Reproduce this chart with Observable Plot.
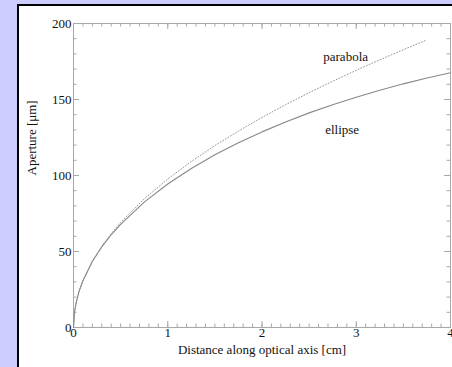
<!DOCTYPE html>
<html><head><meta charset="utf-8">
<script src="https://cdn.jsdelivr.net/npm/d3@7"></script>
<script src="https://cdn.jsdelivr.net/npm/@observablehq/plot@0.6"></script>
<style>
html,body{margin:0;padding:0;background:#ccccff;width:452px;height:367px;overflow:hidden;}
#panel{position:absolute;left:17px;top:4px;width:470px;height:420px;background:#fff;border-left:2px solid #000;border-top:2px solid #000;}
#chart{position:absolute;left:0;top:0;}
</style></head><body><div id="panel"></div><div id="chart"></div>
<script>
// tick values
const xTicks = [0, 1, 2, 3, 4];
const yTicks = [0, 50, 100, 150, 200];
const xMinorTicks = d3.range(0, 4.001, 0.1);
const yMinorTicks = d3.range(0, 200.1, 10);

// ellipse curve (distance cm, aperture µm)
const ellipseX = [0, 0.01, 0.03, 0.06, 0.1, 0.2, 0.3, 0.4, 0.5, 0.75, 1.0, 1.25, 1.5, 1.75, 2.0, 2.25, 2.5, 2.75, 3.0, 3.25, 3.5, 3.75, 4.0];
const ellipseY = [0, 9.8, 16.9, 23.9, 30.8, 43.4, 53.0, 61.0, 67.9, 82.5, 94.4, 104.6, 113.6, 121.6, 128.7, 135.2, 141.2, 146.6, 151.5, 156.1, 160.3, 164.1, 167.6];

// parabola curve
const parabolaX = [0, 0.01, 0.03, 0.06, 0.1, 0.2, 0.3, 0.4, 0.5, 0.75, 1.0, 1.25, 1.5, 1.75, 2.0, 2.25, 2.5, 2.75, 3.0, 3.25, 3.5, 3.73];
const parabolaY = [0, 9.8, 16.9, 23.9, 30.9, 43.7, 53.5, 61.8, 69.1, 84.6, 97.7, 109.2, 119.7, 129.2, 138.2, 146.6, 154.5, 162.0, 169.2, 176.1, 182.8, 188.7];

// curve labels
const labelText = ["parabola", "ellipse"];
const labelX = [2.65, 2.67];
const labelY = [178, 130];

const xTitle = "Distance along optical axis [cm]";
const yTitle = "Aperture [μm]";

const ellipse = ellipseX.map((x, i) => ({x, y: ellipseY[i]}));
const parabola = parabolaX.map((x, i) => ({x, y: parabolaY[i]}));
const labels = labelText.map((t, i) => ({t, x: labelX[i], y: labelY[i]}));

const W = 452, H = 367, mL = 73, mR = 2, mT = 23, mB = 40;
const fw = W - mL - mR, fh = H - mT - mB;
const tickCol = "#a8a8a8";
const major = 6, minor = 3.5;
const fs = 13;

const chart = Plot.plot({
  width: W, height: H,
  marginLeft: mL, marginRight: mR, marginTop: mT, marginBottom: mB,
  x: {domain: [0, 4]},
  y: {domain: [0, 200]},
  style: {fontFamily: "'Liberation Serif', 'Times New Roman', serif", fontSize: fs + "px", background: "transparent", color: "#111", overflow: "visible"},
  marks: [
    Plot.frame({stroke: tickCol}),
    // bottom / top ticks
    Plot.tickX(xMinorTicks, {x: d => d, stroke: tickCol, insetTop: fh - minor}),
    Plot.tickX(xTicks, {x: d => d, stroke: tickCol, insetTop: fh - major}),
    Plot.tickX(xMinorTicks, {x: d => d, stroke: tickCol, insetBottom: fh - minor}),
    Plot.tickX(xTicks, {x: d => d, stroke: tickCol, insetBottom: fh - major}),
    // left / right ticks
    Plot.tickY(yMinorTicks, {y: d => d, stroke: tickCol, insetRight: fw - minor}),
    Plot.tickY(yTicks, {y: d => d, stroke: tickCol, insetRight: fw - major}),
    Plot.tickY(yMinorTicks, {y: d => d, stroke: tickCol, insetLeft: fw - minor}),
    Plot.tickY(yTicks, {y: d => d, stroke: tickCol, insetLeft: fw - major}),
    Plot.axisX({ticks: xTicks, tickFormat: d => String(d), tickSize: 0, tickPadding: 0, label: null, fill: "#111", fontSize: fs}),
    Plot.axisY({ticks: yTicks, tickFormat: d => String(d), tickSize: 0, tickPadding: 2, label: null, fill: "#111", fontSize: fs}),
    Plot.line(parabola, {x: "x", y: "y", stroke: "#999", strokeWidth: 1, strokeDasharray: "1,2"}),
    Plot.line(ellipse, {x: "x", y: "y", stroke: "#888", strokeWidth: 1.1}),
    Plot.text(labels, {x: "x", y: "y", text: "t", textAnchor: "start", fill: "#111", fontSize: fs}),
    Plot.text([xTitle], {frameAnchor: "bottom", dy: 26, fill: "#111", fontSize: fs}),
    Plot.text([yTitle], {frameAnchor: "left", dx: -42, rotate: -90, fill: "#111", fontSize: fs})
  ]
});
document.getElementById("chart").appendChild(chart);
</script>
</body></html>
